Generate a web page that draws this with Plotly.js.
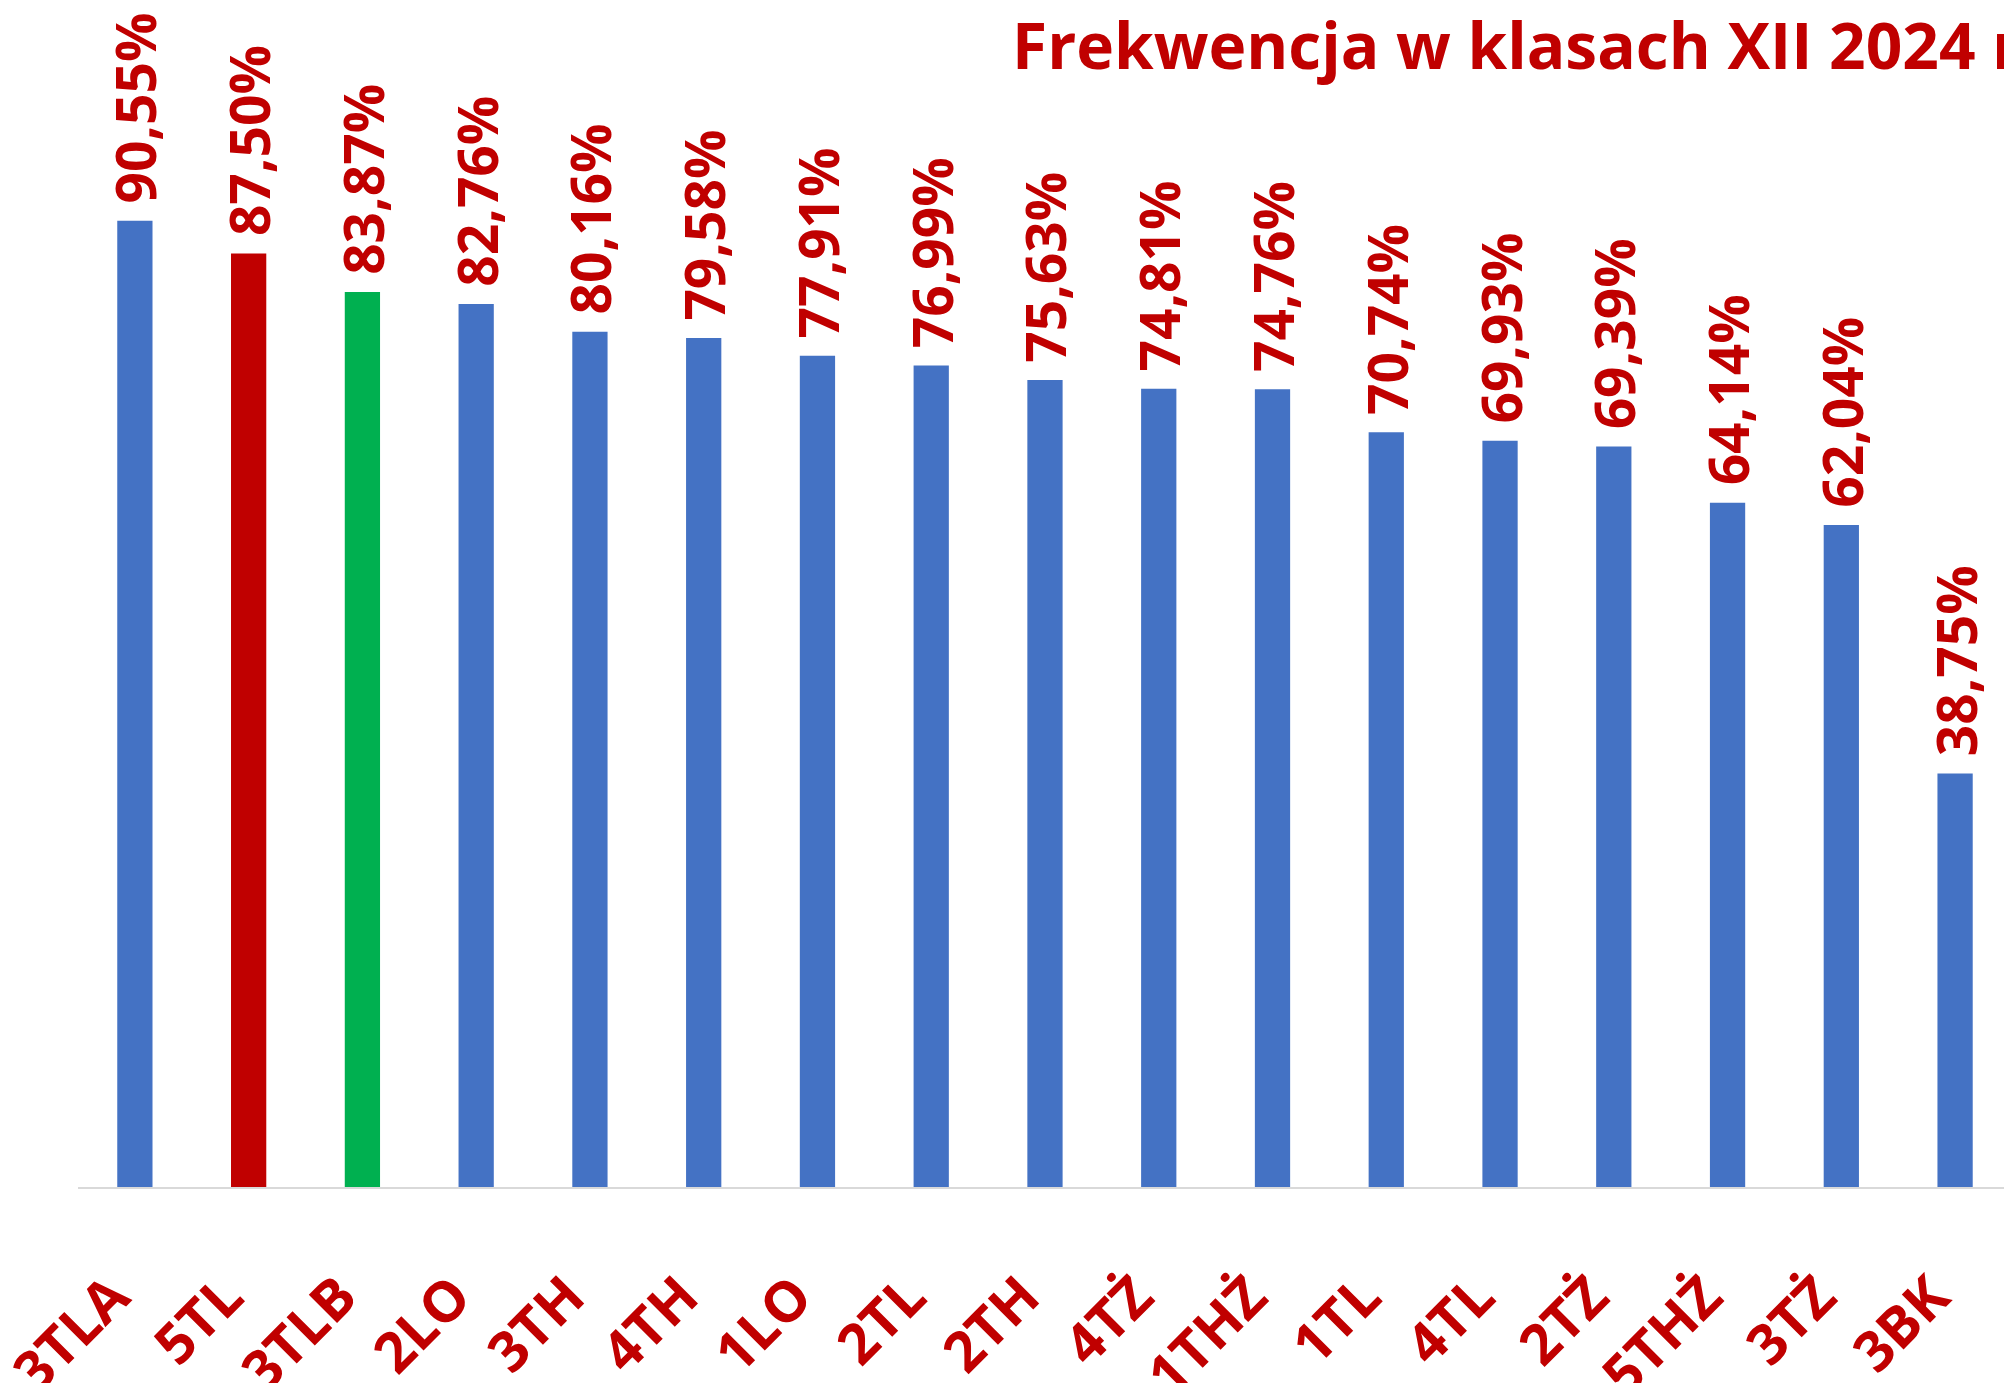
<!DOCTYPE html>
<html>
<head>
<meta charset="utf-8">
<script src="https://cdn.plot.ly/plotly-3.0.1.min.js"></script>
<style>html,body{margin:0;padding:0;background:#fff;overflow:hidden}</style>
</head>
<body>
<div id="chart" style="width:2004px;height:1383px"></div>
<script>
const categories = ["3TLA","5TL","3TLB","2LO","3TH","4TH","1LO","2TL","2TH","4TŻ","1THŻ","1TL","4TL","2TŻ","5THŻ","3TŻ","3BK"];
const values = [90.55,87.50,83.87,82.76,80.16,79.58,77.91,76.99,75.63,74.81,74.76,70.74,69.93,69.39,64.14,62.04,38.75];
const barColors = ["#4472C4","#C00000","#00B050","#4472C4","#4472C4","#4472C4","#4472C4","#4472C4","#4472C4","#4472C4","#4472C4","#4472C4","#4472C4","#4472C4","#4472C4","#4472C4","#4472C4"];
const titleText = "Frekwencja w klasach XII 2024 r.";

const labels = values.map(v => '\u00a0' + v.toFixed(2).replace('.', ',') + '%');

const trace = {
  type: 'bar',
  x: categories,
  y: values,
  width: 0.31,
  marker: {color: barColors},
  text: labels,
  textposition: 'outside',
  textangle: -90,
  constraintext: 'none',
  cliponaxis: false,
  textfont: {family: 'Open Sans', size: 55, color: '#C00000', weight: 'bold'},
  hoverinfo: 'none'
};

const layout = {
  width: 2004,
  height: 1383,
  margin: {l: 78, r: 0, t: 120, b: 196, pad: 0},
  paper_bgcolor: '#ffffff',
  plot_bgcolor: '#ffffff',
  showlegend: false,
  title: {
    text: '<b>' + titleText + '</b>',
    font: {family: 'Open Sans', size: 64, color: '#C00000'},
    xref: 'container', x: 1012/2004, xanchor: 'left',
    yref: 'container', y: 1 - 47/1383, yanchor: 'middle'
  },
  xaxis: {
    type: 'category',
    range: [-0.5, 16.43],
    showgrid: false,
    zeroline: false,
    showline: true,
    linecolor: '#D9D9D9',
    linewidth: 2,
    ticks: '',
    tickangle: -45,
    ticklabelstandoff: 52,
    ticklabelshift: -22,
    tickfont: {family: 'Open Sans', size: 56, color: '#C00000', weight: 'bold'}
  },
  yaxis: {
    range: [0, 100],
    visible: false,
    showgrid: false,
    zeroline: false
  }
};

Plotly.newPlot('chart', [trace], layout, {displayModeBar: false, staticPlot: true});
</script>
</body>
</html>
